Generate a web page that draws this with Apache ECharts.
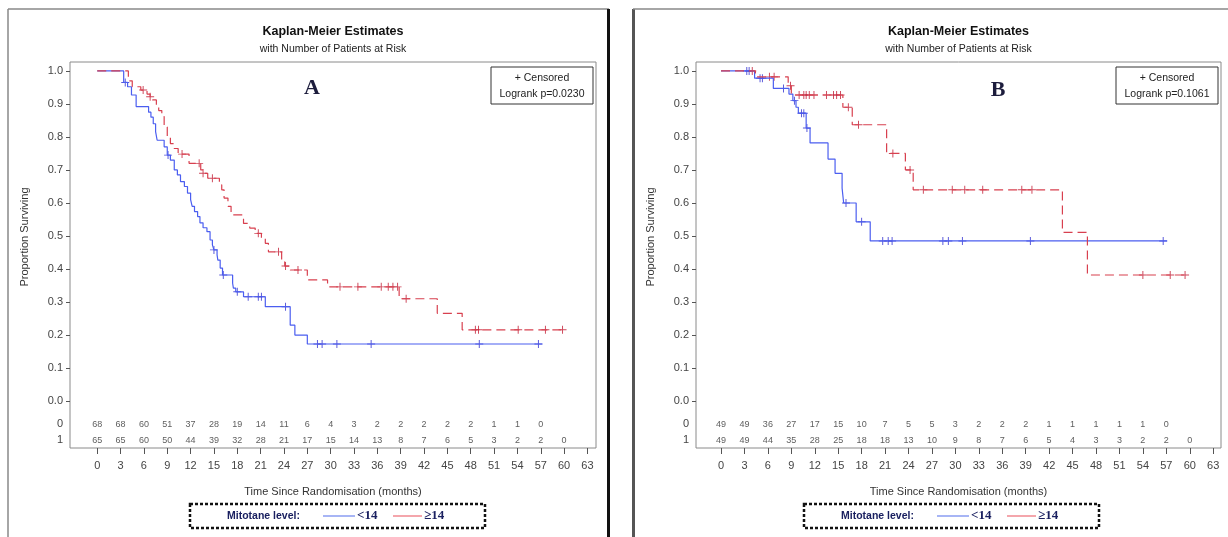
<!DOCTYPE html>
<html>
<head>
<meta charset="utf-8">
<script src="https://cdn.jsdelivr.net/npm/echarts@6/dist/echarts.min.js"></script>
<style>
html, body { margin: 0; padding: 0; background: #fff; }
#chart { width: 1228px; height: 537px; }
</style>
</head>
<body>
<div id="chart"></div>
<script>
// axis ticks
var monthTicks = [0, 3, 6, 9, 12, 15, 18, 21, 24, 27, 30, 33, 36, 39, 42, 45, 48, 51, 54, 57, 60, 63];
var survTicks = [0, 0.1, 0.2, 0.3, 0.4, 0.5, 0.6, 0.7, 0.8, 0.9, 1.0];
var riskMonths = [0, 3, 6, 9, 12, 15, 18, 21, 24, 27, 30, 33, 36, 39, 42, 45, 48, 51, 54, 57, 60];
var groupNames = ['<14', '\u226514'];
var panelLetters = ['A', 'B'];
var pValues = ['0.0230', '0.1061'];

// numbers at risk (row 0 = <14, row 1 = >=14)
var riskA0 = [68, 68, 60, 51, 37, 28, 19, 14, 11, 6, 4, 3, 2, 2, 2, 2, 2, 1, 1, 0];
var riskA1 = [65, 65, 60, 50, 44, 39, 32, 28, 21, 17, 15, 14, 13, 8, 7, 6, 5, 3, 2, 2, 0];
var riskB0 = [49, 49, 36, 27, 17, 15, 10, 7, 5, 5, 3, 2, 2, 2, 1, 1, 1, 1, 1, 0];
var riskB1 = [49, 49, 44, 35, 28, 25, 18, 18, 13, 10, 9, 8, 7, 6, 5, 4, 3, 3, 2, 2, 0];

// KM steps [month, survival from that month on]
var kmALow = [[0, 1], [3.4, 0.965], [3.9, 0.952], [4.4, 0.927], [5.0, 0.892], [6.6, 0.875], [6.9, 0.86],
  [7.2, 0.84], [7.5, 0.816], [7.7, 0.79], [8.6, 0.77], [9.0, 0.745], [9.4, 0.73], [9.9, 0.70], [10.3, 0.685],
  [10.7, 0.665], [11.2, 0.65], [11.6, 0.63], [12.0, 0.61], [12.2, 0.59], [12.5, 0.574], [12.9, 0.559],
  [13.2, 0.54], [13.6, 0.525], [14.1, 0.513], [14.5, 0.488], [14.8, 0.473], [15.0, 0.458], [15.4, 0.443],
  [15.5, 0.427], [15.8, 0.403], [16.1, 0.382], [17.4, 0.357], [17.5, 0.342], [17.8, 0.331], [18.8, 0.316],
  [21.6, 0.286], [24.8, 0.23], [25.4, 0.2], [27.0, 0.173], [57.2, 0.173]];
var kmAHigh = [[0, 1], [4.0, 0.97], [4.5, 0.952], [5.6, 0.942], [6.4, 0.93], [6.8, 0.922], [7.1, 0.912],
  [7.6, 0.892], [7.9, 0.88], [8.3, 0.862], [8.6, 0.83], [9.0, 0.80], [9.4, 0.78], [9.9, 0.765], [10.4, 0.748],
  [11.8, 0.72], [13.3, 0.70], [13.6, 0.69], [14.2, 0.675], [15.7, 0.655], [16.0, 0.64], [16.3, 0.615],
  [16.8, 0.59], [17.2, 0.564], [18.8, 0.538], [19.6, 0.524], [20.3, 0.508], [21.1, 0.494], [21.6, 0.478],
  [22.0, 0.452], [23.7, 0.422], [24.1, 0.409], [24.8, 0.397], [27.0, 0.367], [29.6, 0.346], [38.8, 0.31],
  [43.7, 0.266], [46.9, 0.216], [59.9, 0.216]];
var kmBLow = [[0, 1], [4.3, 0.978], [6.7, 0.947], [8.7, 0.93], [9.2, 0.91], [9.6, 0.89], [9.9, 0.872],
  [10.9, 0.827], [11.4, 0.782], [13.7, 0.733], [14.6, 0.69], [15.5, 0.645], [15.7, 0.6], [17.3, 0.543],
  [19.1, 0.485], [57.1, 0.485]];
var kmBHigh = [[0, 1], [4.4, 0.982], [8.6, 0.955], [9.0, 0.927], [15.6, 0.89], [16.8, 0.837], [21.2, 0.75],
  [23.6, 0.70], [24.6, 0.64], [43.7, 0.511], [46.9, 0.382], [59.8, 0.382]];

// censoring times (months)
var censALow = [3.6, 9.1, 15.0, 16.2, 18.0, 19.4, 20.7, 21.1, 24.2, 28.3, 28.9, 30.8, 35.2, 49.1, 56.7];
var censAHigh = [5.9, 6.8, 10.9, 13.1, 13.6, 14.8, 20.7, 23.3, 24.2, 25.8, 31.2, 33.5, 36.5, 37.4, 38.0,
  38.6, 39.7, 48.6, 49.0, 54.1, 57.6, 59.8];
var censBLow = [3.3, 3.6, 5.0, 5.3, 8.0, 9.4, 10.3, 10.6, 11.0, 16.0, 18.0, 20.7, 21.4, 21.9, 28.4, 29.1,
  30.9, 39.6, 56.6];
var censBHigh = [4.0, 6.2, 6.8, 8.9, 10.0, 10.6, 10.9, 11.3, 11.9, 13.5, 14.4, 14.8, 15.3, 16.3, 17.6, 22.0,
  24.2, 25.9, 29.6, 31.2, 33.5, 38.5, 39.8, 54.0, 57.5, 59.4];

var FONT = '"Liberation Sans", Arial, sans-serif';
var SERIF = '"Liberation Serif", "Times New Roman", serif';
var BLUE = '#4b5ef0', RED = '#d8404f';
var BLUE_DARK = '#2a2ad0', RED_DARK = '#c01830';
var ROW_Y = [-0.07, -0.118];
var PLUS = 'path://M4.4,0H5.6V4.4H10V5.6H5.6V10H4.4V5.6H0V4.4H4.4Z';

var panels = [
  { left: 70, width: 526, xMin: -3.5, xMax: 64.1, low: kmALow, high: kmAHigh, cLow: censALow, cHigh: censAHigh, r0: riskA0, r1: riskA1, legendX: 190, letterX: 312, letterY: 88 },
  { left: 696, width: 525, xMin: -3.2, xMax: 64.0, low: kmBLow, high: kmBHigh, cLow: censBLow, cHigh: censBHigh, r0: riskB0, r1: riskB1, legendX: 804, letterX: 998, letterY: 90 }
];

function survAt(steps, t) {
  var s = steps[0][1];
  for (var i = 0; i < steps.length; i++) {
    if (steps[i][0] <= t) s = steps[i][1];
  }
  return s;
}

var myChart = echarts.init(document.getElementById('chart'), null, { renderer: 'canvas' });

var grids = [], xAxes = [], yAxes = [], series = [], graphics = [];

panels.forEach(function(p, i) {
  grids.push({ left: p.left, top: 62, width: p.width, height: 386, show: true, borderColor: '#8a8a8a', borderWidth: 1, backgroundColor: 'transparent' });
  xAxes.push({
    type: 'value', gridIndex: i, min: p.xMin, max: p.xMax, position: 'bottom',
    axisLine: { show: false, onZero: false },
    splitLine: { show: false },
    axisTick: { show: true, length: 6, customValues: monthTicks, lineStyle: { color: '#555' } },
    axisLabel: { customValues: monthTicks, margin: 12, color: '#444', fontSize: 11, fontFamily: FONT }
  });
  yAxes.push({
    type: 'value', gridIndex: i, min: -0.142, max: 1.027, position: 'left',
    axisLine: { show: false, onZero: false },
    splitLine: { show: false },
    axisTick: { show: true, length: 4, customValues: survTicks, lineStyle: { color: '#555' } },
    axisLabel: {
      customValues: survTicks.concat(ROW_Y), margin: 7, color: '#444', fontSize: 11, fontFamily: FONT,
      formatter: function(v) {
        if (v < -0.05) return v > -0.09 ? '0' : '1';
        return v.toFixed(1);
      }
    }
  });

  var curves = [[p.low, p.cLow, BLUE, BLUE_DARK, 'solid'], [p.high, p.cHigh, RED, RED_DARK, [9, 5]]];
  curves.forEach(function(c, g) {
    series.push({
      name: groupNames[g], type: 'line', step: 'end', xAxisIndex: i, yAxisIndex: i,
      data: c[0], showSymbol: false, silent: true,
      lineStyle: { color: c[2], width: 1.2, type: c[4] }
    });
    series.push({
      type: 'scatter', xAxisIndex: i, yAxisIndex: i, symbol: PLUS, symbolSize: 8, silent: true,
      itemStyle: { color: c[3] },
      data: c[1].map(function(t) { return [t, survAt(c[0], t)]; })
    });
  });

  [p.r0, p.r1].forEach(function(row, r) {
    series.push({
      type: 'scatter', xAxisIndex: i, yAxisIndex: i, symbolSize: 0, silent: true,
      label: { show: true, position: 'inside', color: '#333', fontSize: 9, fontFamily: FONT, formatter: function(q) { return q.value[2]; } },
      data: row.map(function(n, k) { return [riskMonths[k], ROW_Y[r], n]; })
    });
  });

  var cx = p.left + p.width / 2;
  graphics.push(
    { type: 'text', x: cx, y: 32, style: { text: 'Kaplan-Meier Estimates', font: 'bold 12.5px ' + FONT, fill: '#111', align: 'center', verticalAlign: 'middle' } },
    { type: 'text', x: cx, y: 49, style: { text: 'with Number of Patients at Risk', font: '10.5px ' + FONT, fill: '#222', align: 'center', verticalAlign: 'middle' } },
    { type: 'text', x: cx, y: 492, style: { text: 'Time Since Randomisation (months)', font: '11px ' + FONT, fill: '#333', align: 'center', verticalAlign: 'middle' } },
    { type: 'text', x: p.left - 45, y: 237, rotation: Math.PI / 2, style: { text: 'Proportion Surviving', font: '11px ' + FONT, fill: '#333', align: 'center', verticalAlign: 'middle' } },
    { type: 'text', x: p.letterX, y: p.letterY, style: { text: panelLetters[i], font: 'bold 22px ' + SERIF, fill: '#1c1c3c', align: 'center', verticalAlign: 'middle' } },
    { type: 'rect', shape: { x: p.left + p.width - 105, y: 67, width: 102, height: 37 }, style: { fill: '#fff', stroke: '#333', lineWidth: 1 } },
    { type: 'text', x: p.left + p.width - 54, y: 78, style: { text: '+ Censored', font: '10.5px ' + FONT, fill: '#222', align: 'center', verticalAlign: 'middle' } },
    { type: 'text', x: p.left + p.width - 54, y: 94, style: { text: 'Logrank p=' + pValues[i], font: '10.5px ' + FONT, fill: '#222', align: 'center', verticalAlign: 'middle' } }
  );

  // legend box
  var lx = p.legendX;
  graphics.push(
    { type: 'rect', shape: { x: lx, y: 504, width: 295, height: 24 }, style: { fill: '#fff', stroke: '#111', lineWidth: 2.5, lineDash: [3, 2] } },
    { type: 'text', x: lx + 37, y: 516, style: { text: 'Mitotane level:', font: 'bold 10.5px ' + FONT, fill: '#1a2060', align: 'left', verticalAlign: 'middle' } },
    { type: 'line', shape: { x1: lx + 133, y1: 516, x2: lx + 165, y2: 516 }, style: { stroke: '#8a9cf2', lineWidth: 1.5 } },
    { type: 'text', x: lx + 167, y: 516, style: { text: groupNames[0], font: 'bold 13px ' + SERIF, fill: '#1a2060', align: 'left', verticalAlign: 'middle' } },
    { type: 'line', shape: { x1: lx + 203, y1: 516, x2: lx + 232, y2: 516 }, style: { stroke: '#f08890', lineWidth: 1.5 } },
    { type: 'text', x: lx + 234, y: 516, style: { text: groupNames[1], font: 'bold 13px ' + SERIF, fill: '#1a2060', align: 'left', verticalAlign: 'middle' } }
  );
});

// panel frames
graphics.push(
  { type: 'line', shape: { x1: 8, y1: 9, x2: 8, y2: 537 }, style: { stroke: '#888', lineWidth: 1.5 } },
  { type: 'line', shape: { x1: 8, y1: 9, x2: 609, y2: 9 }, style: { stroke: '#888', lineWidth: 1.5 } },
  { type: 'line', shape: { x1: 608.5, y1: 9, x2: 608.5, y2: 537 }, style: { stroke: '#111', lineWidth: 3 } },
  { type: 'line', shape: { x1: 633.5, y1: 9, x2: 633.5, y2: 537 }, style: { stroke: '#555', lineWidth: 3 } },
  { type: 'line', shape: { x1: 633, y1: 9, x2: 1228, y2: 9 }, style: { stroke: '#888', lineWidth: 1.5 } }
);

var option = {
  animation: false,
  backgroundColor: '#fff',
  grid: grids,
  xAxis: xAxes,
  yAxis: yAxes,
  series: series,
  graphic: graphics
};
myChart.setOption(option);
</script>
</body>
</html>
